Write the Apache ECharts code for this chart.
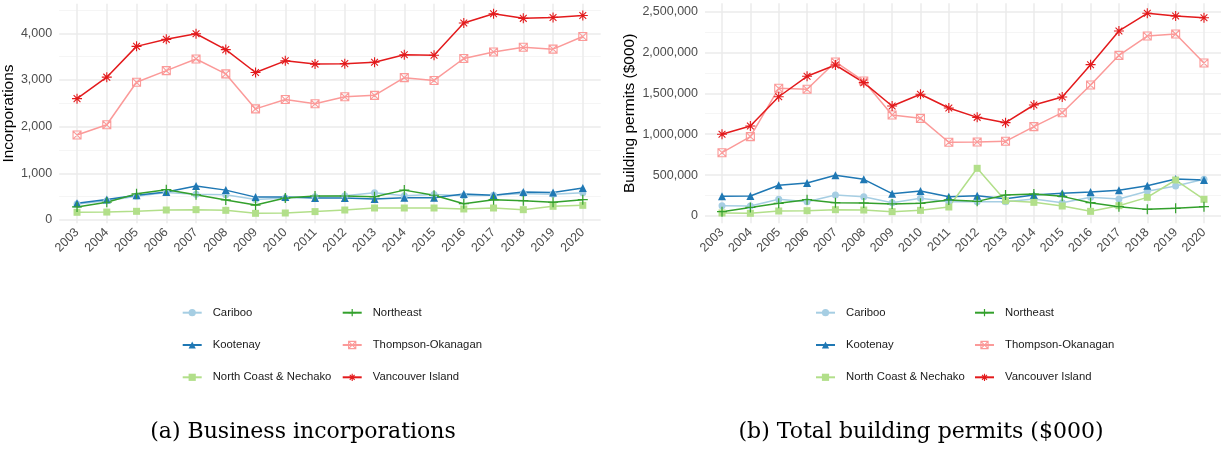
<!DOCTYPE html>
<html>
<head>
<meta charset="utf-8">
<script src="https://cdn.jsdelivr.net/npm/echarts@6/dist/echarts.min.js"></script>
<style>
  html, body { margin: 0; padding: 0; background: #ffffff; }
  #chart { width: 1225px; height: 449px; }
</style>
</head>
<body>
<div id="chart"></div>
<script>
// ---- data -------------------------------------------------------------
const years = [2003, 2004, 2005, 2006, 2007, 2008, 2009, 2010, 2011, 2012,
               2013, 2014, 2015, 2016, 2017, 2018, 2019, 2020];

const regions = ['Cariboo', 'Kootenay', 'North Coast & Nechako',
                 'Northeast', 'Thompson-Okanagan', 'Vancouver Island'];

// (a) Business incorporations
const incCariboo    = [340, 410, 510, 590, 550, 540, 440, 470, 500, 520, 586, 520, 545, 520, 530, 570, 550, 585];
const incKootenay   = [360, 440, 530, 600, 730, 640, 490, 495, 470, 471, 450, 479, 479, 557, 529, 600, 590, 685];
const incNorthCoast = [165, 170, 186, 214, 221, 207, 143, 150, 180, 214, 257, 257, 257, 236, 257, 221, 293, 314];
const incNortheast  = [280, 380, 560, 650, 540, 430, 320, 470, 514, 514, 500, 640, 530, 350, 436, 414, 380, 436];
const incThompson   = [1820, 2040, 2950, 3200, 3450, 3130, 2380, 2580, 2490, 2640, 2670, 3050, 2990, 3460, 3600, 3700, 3660, 3930];
const incVancouver  = [2600, 3060, 3720, 3870, 3990, 3650, 3160, 3410, 3340, 3350, 3380, 3540, 3530, 4220, 4420, 4320, 4340, 4380];

// (b) Total building permits ($000)
const bpCariboo    = [126000, 122000, 204000, 175000, 257000, 236000, 163000, 216000, 175000, 175000, 175000, 208000, 163000, 228000, 208000, 302000, 367000, 448000];
const bpKootenay   = [240000, 244000, 375000, 403000, 497000, 448000, 273000, 306000, 236000, 249000, 212000, 257000, 277000, 293000, 314000, 371000, 452000, 440000];
const bpNorthCoast = [37000, 33000, 61000, 65000, 77000, 73000, 53000, 69000, 110000, 583000, 187000, 167000, 122000, 57000, 126000, 228000, 440000, 204000];
const bpNortheast  = [53000, 105000, 155000, 200000, 163000, 159000, 147000, 155000, 196000, 179000, 257000, 269000, 240000, 163000, 114000, 81000, 94000, 114000];
const bpThompson   = [774000, 970000, 1561000, 1549000, 1883000, 1650000, 1235000, 1194000, 901000, 905000, 913000, 1092000, 1263000, 1601000, 1964000, 2200000, 2225000, 1870000];
const bpVancouver  = [999000, 1100000, 1458000, 1708000, 1846000, 1630000, 1345000, 1488000, 1320000, 1206000, 1141000, 1357000, 1455000, 1850000, 2262000, 2478000, 2445000, 2424000];

const incSeries = [incCariboo, incKootenay, incNorthCoast, incNortheast, incThompson, incVancouver];
const bpSeries  = [bpCariboo, bpKootenay, bpNorthCoast, bpNortheast, bpThompson, bpVancouver];

// ---- styling ------------------------------------------------------------
const SANS = '"Liberation Sans", Arial, Helvetica, sans-serif';
const SERIF = '"DejaVu Serif", "Liberation Serif", serif';
const GRID_MAJOR = '#ebebeb';
const GRID_MINOR = '#f3f3f3';
const TICK_TEXT = '#4d4d4d';
const NONE = 'rgba(0,0,0,0)';

// Paired palette with one marker shape per region; stroked markers have no fill
const styles = {
  'Cariboo':               { color: '#A6CEE3', symbol: 'circle', size: 7, fill: '#A6CEE3', stroke: 0 },
  'Kootenay':              { color: '#1F78B4', symbol: 'triangle', size: 8, fill: '#1F78B4', stroke: 0 },
  'North Coast & Nechako': { color: '#B2DF8A', symbol: 'rect', size: 7, fill: '#B2DF8A', stroke: 0 },
  'Northeast':             { color: '#33A02C', symbol: 'path://M5,0L5,10M0,5L10,5', size: 10, fill: NONE, stroke: 1.2 },
  'Thompson-Okanagan':     { color: '#FB9A99', symbol: 'path://M0,0L10,0L10,10L0,10ZM0,0L10,10M10,0L0,10', size: 8, fill: NONE, stroke: 1.1 },
  'Vancouver Island':      { color: '#E31A1C', symbol: 'path://M5,0L5,10M0,5L10,5M1.6,1.6L8.4,8.4M8.4,1.6L1.6,8.4', size: 10, fill: NONE, stroke: 1.1 }
};

function makeSeries(axisIndex, name, values) {
  const s = styles[name];
  return {
    type: 'line',
    name: name,
    xAxisIndex: axisIndex,
    yAxisIndex: axisIndex,
    data: years.map((y, i) => [y, values[i]]),
    symbol: s.symbol,
    symbolSize: s.size,
    showSymbol: true,
    lineStyle: { color: s.color, width: 1.5 },
    itemStyle: { color: s.fill, borderColor: s.color, borderWidth: s.stroke },
    emphasis: { disabled: true },
    animation: false
  };
}

// x axis: one unit per year, padded 0.6 of a step on each side
function xAxisFor(gridIndex) {
  return {
    type: 'value',
    gridIndex: gridIndex,
    min: years[0] - 0.6,
    max: years[years.length - 1] + 0.6,
    splitNumber: 18,
    minInterval: 1,
    maxInterval: 1,
    axisLine: { show: false },
    axisTick: { show: false },
    axisLabel: {
      rotate: 45,
      margin: 7,
      color: TICK_TEXT,
      fontFamily: SANS,
      fontSize: 12.5,
      formatter: v => (Number.isInteger(v) ? String(v) : '')
    },
    splitLine: { show: true, showMinLine: false, showMaxLine: false, lineStyle: { color: GRID_MAJOR, width: 1.5 } }
  };
}

// y axis: range padded by 5% of the data span
function yAxisFor(gridIndex, seriesList, step, title, nameGap) {
  const all = seriesList.flat();
  const lo = Math.min(...all), hi = Math.max(...all);
  const pad = (hi - lo) * 0.05;
  return {
    type: 'value',
    gridIndex: gridIndex,
    min: lo - pad,
    max: hi + pad,
    splitNumber: 5,
    minInterval: step,
    maxInterval: step,
    name: title,
    nameLocation: 'middle',
    nameRotate: 90,
    nameGap: nameGap,
    nameTextStyle: { color: '#000000', fontFamily: SANS, fontSize: 15.5 },
    axisLine: { show: false },
    axisTick: { show: false },
    axisLabel: {
      margin: 7,
      color: TICK_TEXT,
      fontFamily: SANS,
      fontSize: 12.5,
      formatter: v => (Math.abs(v % step) < 1e-6 ? Math.round(v).toLocaleString('en-US') : '')
    },
    splitLine: { show: true, showMinLine: false, showMaxLine: false, lineStyle: { color: GRID_MAJOR, width: 1.5 } },
    minorTick: { show: false, splitNumber: 2 },
    minorSplitLine: { show: true, lineStyle: { color: GRID_MINOR, width: 0.8 } }
  };
}

function legendFor(names, left, top) {
  return {
    data: names.map(n => {
      const s = styles[n];
      return { name: n, itemStyle: { color: s.fill, borderColor: s.color, borderWidth: s.stroke } };
    }),
    orient: 'vertical',
    left: left,
    top: top,
    padding: 0,
    itemWidth: 19,
    itemHeight: 9,
    itemGap: 18.3,
    selectedMode: false,
    textStyle: { fontFamily: SANS, fontSize: 11.3, lineHeight: 14, color: '#1a1a1a', padding: [0, 0, 0, 6] }
  };
}

const option = {
  backgroundColor: '#ffffff',
  animation: false,
  grid: [
    { left: 59.15, top: 3.7, width: 541.5, height: 219.6 },
    { left: 705, top: 3.3, width: 516, height: 220 }
  ],
  xAxis: [xAxisFor(0), xAxisFor(1)],
  yAxis: [
    yAxisFor(0, incSeries, 1000, 'Incorporations', 42),
    yAxisFor(1, bpSeries, 500000, 'Building permits ($000)', 67)
  ],
  legend: [
    legendFor(regions.slice(0, 3), 181.7, 305.7),
    legendFor(regions.slice(3), 341.7, 305.7),
    legendFor(regions.slice(0, 3), 815, 305.7),
    legendFor(regions.slice(3), 974, 305.7)
  ],
  graphic: [
    { type: 'text', x: 303, y: 432, style: { text: '(a) Business incorporations', fontFamily: SERIF, fontSize: 22, fill: '#000', textAlign: 'center', textVerticalAlign: 'middle' } },
    { type: 'text', x: 921, y: 432, style: { text: '(b) Total building permits ($000)', fontFamily: SERIF, fontSize: 22, fill: '#000', textAlign: 'center', textVerticalAlign: 'middle' } }
  ],
  series: [
    ...regions.map((r, i) => makeSeries(0, r, incSeries[i])),
    ...regions.map((r, i) => makeSeries(1, r, bpSeries[i]))
  ]
};

const chart = echarts.init(document.getElementById('chart'), null, { renderer: 'canvas' });
chart.setOption(option);
</script>
</body>
</html>
